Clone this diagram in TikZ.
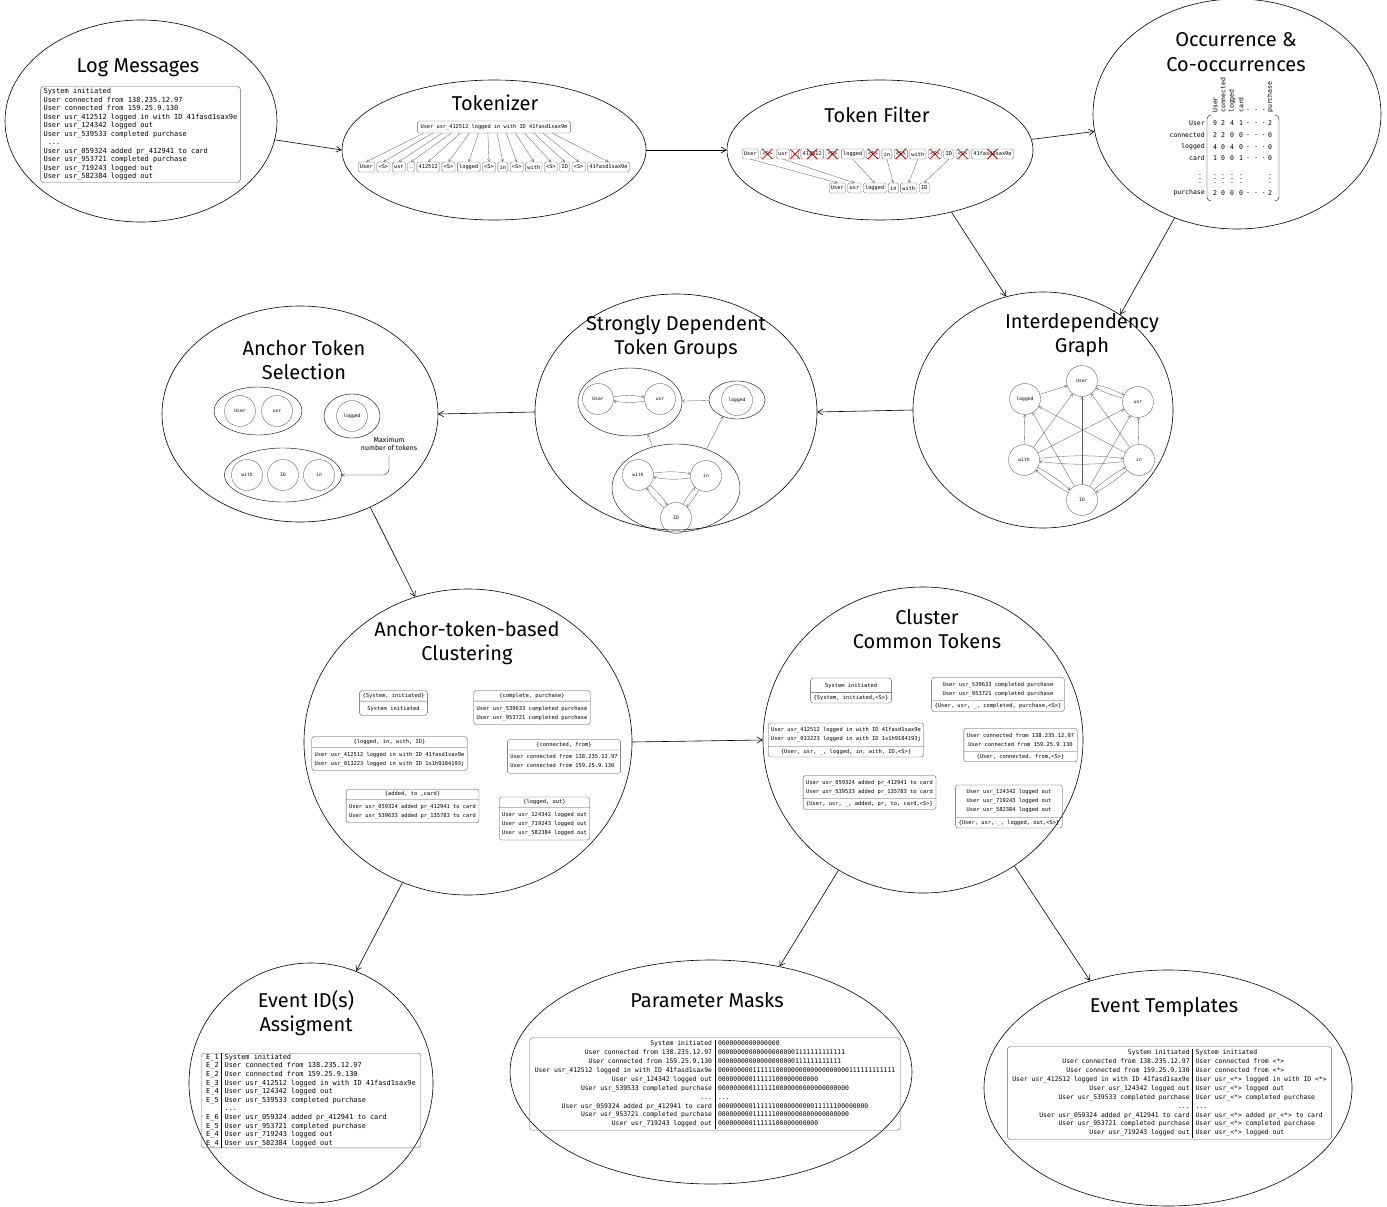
\documentclass[tikz,border=0pt]{standalone}
\usepackage{fontspec}
\setmainfont{Fira Sans}
\setmonofont{DejaVu Sans Mono}
\usetikzlibrary{shapes.geometric, shapes.multipart, positioning, arrows.meta, calc}
\setlength{\tabcolsep}{3pt}
\newcommand{\lns}[1]{\begin{tabular}{@{}l@{}}#1\end{tabular}}
\newcommand{\clns}[1]{\begin{tabular}{@{}c@{}}#1\end{tabular}}

\begin{document}
\begin{tikzpicture}[
    x=1pt, y=-1pt,
    stage/.style={ellipse, draw, line width=0.6pt, inner sep=0pt},
    title/.style={font=\fontsize{20}{24.5}\selectfont, align=center},
    note/.style={font=\fontsize{7}{8.5}\selectfont, align=center},
    logbox/.style={rectangle, draw=black!60, rounded corners=3pt, line width=0.4pt, align=left, inner xsep=3pt, inner ysep=2pt, font=\ttfamily\fontsize{7}{8.5}\selectfont},
    tok/.style={rectangle, draw=black!60, rounded corners=1.5pt, line width=0.3pt, inner xsep=1.8pt, inner ysep=0pt, minimum height=10pt, font=\ttfamily\fontsize{5.3}{6}\selectfont},
    circ/.style={circle, draw=black!70, line width=0.3pt, minimum size=31pt, inner sep=0pt, font=\ttfamily\fontsize{4.6}{5}\selectfont},
    group/.style={ellipse, draw, line width=0.4pt, inner sep=0pt},
    mtx/.style={inner sep=0pt, font=\ttfamily\fontsize{6.5}{7}\selectfont},
    cbox/.style={rectangle split, rectangle split parts=2, draw=black!70, rounded corners=2.5pt, line width=0.3pt, inner xsep=3pt, inner ysep=2.5pt, font=\ttfamily\fontsize{5.4}{9}\selectfont},
    tbl/.style={rectangle, draw=black!60, rounded corners=3pt, line width=0.4pt, inner xsep=2pt, inner ysep=2pt, font=\ttfamily\fontsize{6.4}{8.9}\selectfont},
    xmark/.style={red!80!black, line width=0.8pt},
    arrow/.style={-{Straight Barb[length=5pt, width=6pt]}, line width=0.6pt},
    thin_arrow/.style={-{Straight Barb[length=2.5pt, width=3pt]}, line width=0.3pt, black!65},
]
\path[use as bounding box, fill=white] (0,0) rectangle (1387,1207);

%% STAGES
    \node[stage, minimum width=272pt, minimum height=202pt] (logmsg) at (141,121) {};
    \node[stage, minimum width=304pt, minimum height=140pt] (tokenizer) at (494,150) {};
    \node[stage, minimum width=306pt, minimum height=140pt] (filter) at (880,150) {};
    \node[stage, minimum width=288pt, minimum height=230pt] (occur) at (1237,114) {};
    \node[stage, minimum width=260pt, minimum height=236pt] (interdep) at (1043,410) {};
    \node[stage, minimum width=282pt, minimum height=236pt] (strongly) at (676,412) {};
    \node[stage, minimum width=276pt, minimum height=216pt] (anchorsel) at (300,414) {};
    \node[stage, minimum width=328pt, minimum height=306pt] (clustering) at (468,742) {};
    \node[stage, minimum width=320pt, minimum height=306pt] (common) at (923,740) {};
    \node[stage, minimum width=244pt, minimum height=240pt] (eventid) at (311,1083) {};
    \node[stage, minimum width=402pt, minimum height=224pt] (masks) at (711,1072) {};
    \node[stage, minimum width=368pt, minimum height=236pt] (templates) at (1168,1088) {};

    % titles
    \node[title] (logtitle) at (138,68) {Log Messages};
    \node[title] (toktitle) at (495,103) {Tokenizer};
    \node[title] (filtitle) at (877,115) {Token Filter};
    \node[title] (occtitle) at (1236,52) {Occurrence \&\\Co-occurrences};
    \node[title] (inttitle) at (1082,335) {Interdependency\\Graph};
    \node[title] (strtitle) at (676,337) {Strongly Dependent\\Token Groups};
    \node[title] (anctitle) at (304,360) {Anchor Token\\Selection};
    \node[title] (clutitle) at (467,643) {Anchor-token-based\\Clustering};
    \node[title] (comtitle) at (927,629) {Cluster\\Common Tokens};
    \node[title] (eidtitle) at (306,1013) {Event ID(s)\\Assigment};
    \node[title] (msktitle) at (707,1000) {Parameter Masks};
    \node[title] (tpltitle) at (1164,1007) {Event Templates};

    \draw[arrow] (logmsg.-8) -- (tokenizer.west);
    \draw[arrow] (tokenizer.east) -- (filter.west);
    \draw[arrow] (filter.4) -- (occur.187);
    \draw[arrow] (filter.-41) -- (interdep.108);
    \draw[arrow] (occur.-121) -- (interdep.51);
    \draw[arrow] (interdep.west) -- (strongly.east);
    \draw[arrow] (strongly.west) -- (anchorsel.east);
    \draw[arrow] (anchorsel.-53) -- (clustering.110);
    \draw[arrow] (clustering.east) -- (common.west);
    \draw[arrow] (clustering.-115) -- (eventid.68);
    \draw[arrow] (common.-123) -- (masks.57);
    \draw[arrow] (common.-54) -- (templates.126);

%% LOG MESSAGES
    \node[logbox] (logs) at (140.5,134.5) {System initiated\\
        User connected from 138.235.12.97\\
        User connected from 159.25.9.130\\
        User usr\_412512 logged in with ID 41fasd1sax9e\\
        User usr\_124342 logged out\\
        User usr\_539533 completed purchase\\
        ~...\\
        User usr\_059324 added pr\_412941 to card\\
        User usr\_953721 completed purchase\\
        User usr\_719243 logged out\\
        User usr\_582384 logged out};

%% TOKENIZER
    \node[tok, minimum height=12pt, inner xsep=3pt] (sent) at (494,127) {User usr\_412512 logged in with ID 41fasd1sax9e};
    \foreach \tk [count=\i] in {User, <S>, usr, \_, 412512, <S>, logged, <S>, in, <S>, with, <S>, ID, <S>, 41fasd1sax9e} {
        \pgfmathtruncatemacro\j{\i-1}
        \ifnum\i=1
            \node[tok, anchor=west] (t\i) at (358,167) {\tk};
        \else
            \node[tok, right=2pt of t\j] (t\i) {\tk};
        \fi
        \pgfmathsetmacro\p{0.04+(\i-1)*0.06}
        \coordinate (s\i) at ($(sent.south west)!\p!(sent.south east)$);
        \draw[thin_arrow] (s\i) -- (t\i.north);
    }

%% TOKEN FILTER
    \foreach \tk [count=\i] in {User, <S>, usr, \_, 412512, <S>, logged, <S>, in, <S>, with, <S>, ID, <S>, 41fasd1sax9e} {
        \pgfmathtruncatemacro\j{\i-1}
        \ifnum\i=1
            \node[tok, anchor=west] (f\i) at (742,154) {\tk};
        \else
            \node[tok, right=2pt of f\j] (f\i) {\tk};
        \fi
    }
    \foreach \tk [count=\i] in {User, usr, logged, in, with, ID} {
        \pgfmathtruncatemacro\j{\i-1}
        \ifnum\i=1
            \node[tok, anchor=west] (b\i) at (829,188) {\tk};
        \else
            \node[tok, right=2pt of b\j] (b\i) {\tk};
        \fi
    }
    \foreach \i in {2,4,5,6,8,10,12,14,15}
        \draw[xmark] ($(f\i)+(-5,-5)$) -- ($(f\i)+(5,5)$) ($(f\i)+(-5,5)$) -- ($(f\i)+(5,-5)$);
    \foreach \a/\b in {1/1, 3/2, 7/3, 9/4, 11/5, 13/6}
        \draw[thin_arrow] (f\a.south) -- (b\b.north);

%% OCCURRENCE MATRIX
    \foreach \lab/\xx [count=\c] in {User/1215, connected/1223, logged/1232, card/1241, purchase/1270}
        \node[mtx, rotate=90, anchor=west] (mh\c) at (\xx,113) {\lab};
    \node[mtx] (mhdots) at (1256,110) {. . .};
    \foreach \lab/\yy/\va/\vb/\vc/\vd/\ve [count=\r] in {User/123/9/2/4/1/2, connected/135/2/2/0/0/0, logged/147/4/0/4/0/0, card/158/1/0/0/1/0, purchase/193/2/0/0/0/2} {
        \node[mtx, anchor=east] (ml\r) at (1205,\yy) {\lab};
        \node[mtx] (m\r-1) at (1215,\yy) {\va};
        \node[mtx] (m\r-2) at (1223,\yy) {\vb};
        \node[mtx] (m\r-3) at (1232,\yy) {\vc};
        \node[mtx] (m\r-4) at (1241,\yy) {\vd};
        \node[mtx] (m\r-d) at (1256,\yy) {. . .};
        \node[mtx] (m\r-5) at (1270,\yy) {\ve};
    }
    \foreach \xx [count=\c] in {1200,1215,1223,1232,1241,1270}
        \node[mtx] (mv\c) at (\xx,176) {\vdots};
    \draw[line width=0.4pt, rounded corners=4pt] (1211,115) -- (1207,115) -- (1207,201) -- (1211,201);
    \draw[line width=0.4pt, rounded corners=4pt] (1275,115) -- (1279,115) -- (1279,201) -- (1275,201);

%% INTERDEPENDENCY GRAPH
    \node[circ] (iUser) at (1082,381) {User};
    \node[circ] (iusr) at (1138,402) {usr};
    \node[circ] (iin) at (1139,460) {in};
    \node[circ] (iID) at (1082,500) {ID};
    \node[circ] (iwith) at (1024,460) {with};
    \node[circ] (ilogged) at (1025,399) {logged};

    \foreach \a/\b in {logged/User, with/logged, in/usr, with/User, with/usr, in/logged, in/User, ID/User, ID/logged, ID/usr}
        \draw[thin_arrow] (i\a) -- (i\b);
    \foreach \a/\b in {User/usr, with/in, with/ID, in/ID} {
        \draw[thin_arrow] (i\a) to[bend left=6] (i\b);
        \draw[thin_arrow] (i\b) to[bend left=6] (i\a);
    }

%% STRONGLY DEPENDENT TOKEN GROUPS
    \node[group, minimum width=104pt, minimum height=68pt] (sg1) at (630,402) {};
    \node[group, minimum width=56pt, minimum height=38pt] (sg2) at (737,400) {};
    \node[group, minimum width=128pt, minimum height=88pt] (sg3) at (676,488) {};
    \node[circ] (sUser) at (598,399) {User};
    \node[circ] (susr) at (660,399) {usr};
    \node[circ] (slogged) at (737,400) {logged};
    \node[circ] (swith) at (638,475) {with};
    \node[circ] (sin) at (706,476) {in};
    \node[circ] (sID) at (676,518) {ID};

    \draw[thin_arrow] (sg2) -- (sg1);
    \draw[thin_arrow] (sg3.120) -- (sg1.-61);
    \draw[thin_arrow] (sg3.52) -- (sg2.-130);
    \foreach \a/\b in {User/usr, with/in, with/ID, in/ID} {
        \draw[thin_arrow] (s\a) to[bend left=8] (s\b);
        \draw[thin_arrow] (s\b) to[bend left=8] (s\a);
    }

%% ANCHOR TOKEN SELECTION
    \node[group, minimum width=88pt, minimum height=48pt] (ag1) at (258,411) {};
    \node[group, minimum width=56pt, minimum height=44pt] (ag2) at (352,416) {};
    \node[group, minimum width=117pt, minimum height=54pt] (ag3) at (283,475) {};
    \node[circ] (aUser) at (240,411) {User};
    \node[circ] (ausr) at (277,411) {usr};
    \node[circ] (alogged) at (352,416) {logged};
    \node[circ] (awith) at (247,475) {with};
    \node[circ] (aID) at (283,475) {ID};
    \node[circ] (ain) at (319,475) {in};

    \node[note] (maxnote) at (389,444) {Maximum\\number of tokens};
    \draw[thin_arrow, black, rounded corners=6pt] (maxnote.south) |- (ag3.east);

%% ANCHOR-TOKEN-BASED CLUSTERING
    \node[cbox] (cb1) at (393.5,703) {\{System, initiated\}\nodepart{two}\lns{System initiated}};
    \node[cbox] (cb2) at (532,707.5) {\{complete, purchase\}\nodepart{two}\lns{User usr\_539633 completed purchase\\User usr\_953721 completed purchase}};
    \node[cbox] (cb3) at (389.5,753.5) {\{logged, in, with, ID\}\nodepart{two}\lns{User usr\_412512 logged in with ID 41fasd1sax9e\\User usr\_013223 logged in with ID 1s1h9184193j}};
    \node[cbox] (cb4) at (564,756.5) {\{connected, from\}\nodepart{two}\lns{User connected from 138.235.12.97\\User connected from 159.25.9.130}};
    \node[cbox] (cb5) at (412.5,806) {\{added, to ,card\}\nodepart{two}\lns{User usr\_059324 added pr\_412941 to card\\User usr\_539633 added pr\_135783 to card}};
    \node[cbox] (cb6) at (544.5,818.5) {\{logged, out\}\nodepart{two}\lns{User usr\_124342 logged out\\User usr\_719243 logged out\\User usr\_582384 logged out}};

%% CLUSTER COMMON TOKENS
    \node[cbox] (cc1) at (851,690.5) {\clns{System initiated}\nodepart{two}\{System, initiated,<S>\}};
    \node[cbox] (cc2) at (998,694.5) {\clns{User usr\_539633 completed purchase\\User usr\_953721 completed purchase}\nodepart{two}\{User, usr, \_, completed, purchase,<S>\}};
    \node[cbox] (cc3) at (846,740) {\clns{User usr\_412512 logged in with ID 41fasd1sax9e\\User usr\_013223 logged in with ID 1s1h9184193j}\nodepart{two}\{User, usr, \_, logged, in, with, ID,<S>\}};
    \node[cbox] (cc4) at (1020.5,745) {\clns{User connected from 138.235.12.97\\User connected from 159.25.9.130}\nodepart{two}\{User, connected, from,<S>\}};
    \node[cbox] (cc5) at (869.5,792.5) {\clns{User usr\_059324 added pr\_412941 to card\\User usr\_539533 added pr\_135783 to card}\nodepart{two}\{User, usr, \_, added, pr, to, card,<S>\}};
    \node[cbox] (cc6) at (1009,806.5) {\clns{User usr\_124342 logged out\\User usr\_719243 logged out\\User usr\_582384 logged out}\nodepart{two}\{User, usr, \_, logged, out,<S>\}};

%% EVENT ID(S) ASSIGMENT
    \node[tbl, inner ysep=0pt, font=\ttfamily\fontsize{6.9}{8.6}\selectfont] (idtbl) at (311,1100.5) {\begin{tabular}{l|l}
        E\_1 & System initiated\\
        E\_2 & User connected from 138.235.12.97\\
        E\_2 & User connected from 159.25.9.130\\
        E\_3 & User usr\_412512 logged in with ID 41fasd1sax9e\\
        E\_4 & User usr\_124342 logged out\\
        E\_5 & User usr\_539533 completed purchase\\
             & ...\\
        E\_6 & User usr\_059324 added pr\_412941 to card\\
        E\_5 & User usr\_953721 completed purchase\\
        E\_4 & User usr\_719243 logged out\\
        E\_4 & User usr\_582384 logged out
    \end{tabular}};

%% PARAMETER MASKS
    \node[tbl] (masktbl) at (715,1084) {\begin{tabular}{r|l}
        System initiated & 0000000000000000\\
        User connected from 138.235.12.97 & 000000000000000000001111111111111\\
        User connected from 159.25.9.130 & 00000000000000000000111111111111\\
        User usr\_412512 logged in with ID 41fasd1sax9e & 0000000001111110000000000000000000111111111111\\
        User usr\_124342 logged out & 00000000011111100000000000\\
        User usr\_539533 completed purchase & 0000000001111110000000000000000000\\
        ... & ...\\
        User usr\_059324 added pr\_412941 to card & 000000000111111000000000011111100000000\\
        User usr\_953721 completed purchase & 0000000001111110000000000000000000\\
        User usr\_719243 logged out & 00000000011111100000000000
    \end{tabular}};

%% EVENT TEMPLATES
    \node[tbl] (tpltbl) at (1169.5,1093) {\begin{tabular}{r|l}
        System initiated & System initiated\\
        User connected from 138.235.12.97 & User connected from <*>\\
        User connected from 159.25.9.130 & User connected from <*>\\
        User usr\_412512 logged in with ID 41fasd1sax9e & User usr\_<*> logged in with ID <*>\\
        User usr\_124342 logged out & User usr\_<*> logged out\\
        User usr\_539533 completed purchase & User usr\_<*> completed purchase\\
        ... & ...\\
        User usr\_059324 added pr\_412941 to card & User usr\_<*> added pr\_<*> to card\\
        User usr\_953721 completed purchase & User usr\_<*> completed purchase\\
        User usr\_719243 logged out & User usr\_<*> logged out
    \end{tabular}};

\end{tikzpicture}
\end{document}
